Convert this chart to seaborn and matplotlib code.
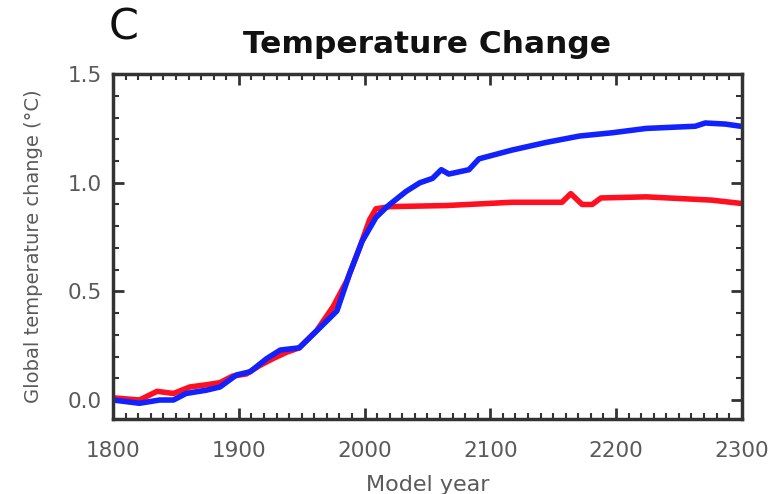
import matplotlib
matplotlib.use("Agg")
import matplotlib.pyplot as plt
import seaborn as sns
import pandas as pd
from matplotlib.ticker import MultipleLocator, FormatStrFormatter

red_years = [1800, 1821, 1835, 1848, 1861, 1874, 1885, 1895, 1906, 1917, 1927, 1938, 1948, 1962,
             1975, 1986, 1996, 2004, 2009, 2020, 2065, 2117, 2157, 2164, 2173, 2181, 2188, 2224,
             2276, 2299]
red_temp = [0.01, 0.0, 0.04, 0.03, 0.06, 0.07, 0.08, 0.11, 0.12, 0.16, 0.19, 0.22, 0.24, 0.32,
            0.43, 0.55, 0.70, 0.83, 0.88, 0.89, 0.895, 0.91, 0.91, 0.95, 0.90, 0.90, 0.93, 0.935,
            0.92, 0.905]

blue_years = [1800, 1821, 1837, 1848, 1858, 1874, 1885, 1898, 1909, 1922, 1933, 1948, 1964, 1978,
              1988, 1998, 2009, 2017, 2020, 2033, 2044, 2054, 2061, 2067, 2083, 2091, 2117, 2144,
              2171, 2197, 2224, 2263, 2271, 2287, 2299]
blue_temp = [0.0, -0.015, 0.0, 0.0, 0.03, 0.045, 0.06, 0.115, 0.13, 0.19, 0.23, 0.24, 0.33, 0.41,
             0.58, 0.73, 0.84, 0.885, 0.90, 0.96, 1.0, 1.02, 1.06, 1.04, 1.06, 1.11, 1.15, 1.185,
             1.215, 1.23, 1.25, 1.26, 1.275, 1.27, 1.26]

sns.set_style("white")
plt.rcParams['font.family'] = ['DejaVu Sans']

fig = plt.figure(figsize=(7.8, 4.94), dpi=100)
ax = fig.add_axes([0.145, 0.152, 0.806, 0.698])

red_df = pd.DataFrame({"year": red_years, "temp": red_temp})
blue_df = pd.DataFrame({"year": blue_years, "temp": blue_temp})
sns.lineplot(data=red_df, x="year", y="temp", color="#ff1020", linewidth=4.0, ax=ax, sort=True)
sns.lineplot(data=blue_df, x="year", y="temp", color="#1222ff", linewidth=4.0, ax=ax, sort=True)

ax.set_xlim(1800, 2300)
ax.set_ylim(-0.087, 1.5)
ax.xaxis.set_major_locator(MultipleLocator(100))
ax.xaxis.set_minor_locator(MultipleLocator(10))
ax.yaxis.set_major_locator(MultipleLocator(0.5))
ax.yaxis.set_minor_locator(MultipleLocator(0.1))
ax.yaxis.set_major_formatter(FormatStrFormatter('%.1f'))
ax.tick_params(which='both', direction='in', top=True, right=True, bottom=True, left=True,
               color='#333333', labelcolor='#5a5a5a', labelsize=15.5)
ax.tick_params(which='major', length=8, width=2)
ax.tick_params(which='minor', length=4, width=1.5)
ax.tick_params(axis='x', pad=16)
ax.tick_params(axis='y', pad=8)
for s in ax.spines.values():
    s.set_visible(True)
    s.set_linewidth(2.5)
    s.set_color('#333333')

ax.set_xlabel("Model year", fontsize=16, color='#5a5a5a')
ax.xaxis.set_label_coords(0.5, -0.162)
ax.xaxis.label.set_va('top')
ax.set_ylabel("Global temperature change (°C)", fontsize=14, color='#5a5a5a')
ax.yaxis.set_label_coords(-0.111, 0.5)
ax.set_title("Temperature Change", fontsize=22.5, fontweight='heavy', color='#111111', pad=15)
fig.text(0.158, 0.945, "C", fontsize=31, color='#111111', va='center', ha='center')

fig.savefig("out.png", dpi=100)
